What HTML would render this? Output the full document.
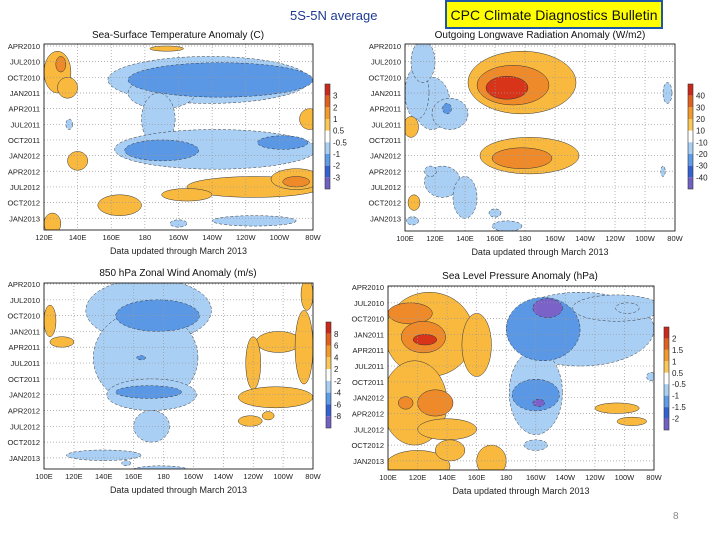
<!DOCTYPE html>
<html><head><meta charset="utf-8"><style>
body{margin:0;background:#fff}
svg{display:block;font-family:"Liberation Sans",sans-serif}
</style></head><body>
<svg id="s" width="720" height="540" viewBox="0 0 720 540">
<text x="290" y="20" font-size="13" fill="#1f3a93">5S-5N average</text>
<rect x="446" y="1" width="216" height="27" fill="#ffff00" stroke="#2056a8" stroke-width="2"/>
<text x="554" y="20" font-size="14" text-anchor="middle" fill="#111">CPC Climate Diagnostics Bulletin</text>
<text x="673" y="519" font-size="10" fill="#888">8</text>
</svg>
<script>
// ---- data: blobs [lon, monthSinceApr2010, rxDeg, ryMonths, level]
const sstBlobs=[[128,5,8,4,1],[130,3.5,3,1.5,2],[134,8,6,2,1],[218,6.5,60,4.5,-1],[190,9,20,3,-1],[225,6.5,55,3.3,-2],[188,14,10,5,-1],[222,19.8,60,3.8,-1],[190,20,22,2,-2],[262,18.5,15,1.3,-2],[140,22,6,1.8,1],[245,27,40,2,1],[270,25.5,15,2,1],[270,26,8,1,2],[205,28.5,15,1.2,1],[165,30.5,13,2,1],[125,34,5,2,1],[278,14,6,2,1],[245,33.5,25,1,-1],[200,34,5,0.7,-1],[193,0.5,10,0.5,1],[135,15,2,1,-1]];
const olrBlobs=[[178,7,36,6,1],[172,7.5,24,3.8,2],[168,8,14,2.2,3],[183,21,33,3.5,1],[178,21.5,20,2,2],[118,11,12,5,-1],[130,13,12,3,-1],[108,9,8,5,-1],[112,3,8,4,-1],[128,12,3,1,-2],[125,26,12,3,-1],[140,29,8,4,-1],[117,24,4,1,-1],[160,32,4,0.8,-1],[168,34.5,10,1,-1],[105,33.5,4,0.8,-1],[275,9,3,2,-1],[272,24,1.5,1,-1],[104,15.5,5,2,1],[106,30,4,1.5,1]];
const uBlobs=[[170,5,42,6,-1],[168,14,35,9,-1],[172,21,30,3,-1],[172,27,12,3,-1],[140,32.5,25,1,-1],[178,35.5,20,1,-1],[155,34,3,0.5,-1],[176,6,28,3,-2],[170,20.5,22,1.2,-2],[165,14,3,0.4,-2],[257,11,15,2,1],[274,12,6,7,1],[240,15,5,5,1],[255,21.5,25,2,1],[238,26,8,1,1],[250,25,4,0.8,1],[104,7,4,3,1],[112,11,8,1,1],[276,2,4,3,1]];
const slpBlobs=[[128,9,30,8,1],[118,22,22,8,1],[140,27,20,2,1],[160,11,10,6,1],[115,5,15,2,2],[124,9.5,15,3,2],[125,10,8,1,3],[132,22,12,2.5,2],[112,22,5,1.2,2],[120,34,22,3,1],[170,33,10,3,1],[255,23,15,1,1],[265,25.5,10,0.8,1],[142,31,10,2,1],[230,8,50,7,-1],[200,20,18,8,-1],[255,4,30,2.5,-1],[205,8,25,6,-2],[200,20.5,16,3,-2],[208,4,10,1.8,-3],[202,22,4,0.7,-3],[200,30,8,1,-1],[262,4,8,1,-1],[278,17,3,0.8,-1]];
const timeLabelsA=["APR2010","JUL2010","OCT2010","JAN2011","APR2011","JUL2011","OCT2011","JAN2012","APR2012","JUL2012","OCT2012","JAN2013"];
const lonLabelsSST=["120E","140E","160E","180","160W","140W","120W","100W","80W"];
const lonLabelsWide=["100E","120E","140E","160E","180","160W","140W","120W","100W","80W"];
const sstBar=["3","2","1","0.5","-0.5","-1","-2","-3"];
const olrBar=["40","30","20","10","-10","-20","-30","-40"];
const uBar=["8","6","4","2","-2","-4","-6","-8"];
const slpBar=["2","1.5","1","0.5","-0.5","-1","-1.5","-2"];

const NS="http://www.w3.org/2000/svg";
const svg=document.getElementById('s');
const col={"-3":"#7a62c8","-2":"#5a98e6","-1":"#a9cff5","1":"#f9b93e","2":"#ef8a2a","3":"#d7341a"};
const barCols=["#c9281a","#e0601f","#f39a2c","#fbc65a","#ffffff","#a9cff5","#5e9be8","#3461d2","#7060c4"];
function mk(t,a,p){const e=document.createElementNS(NS,t);for(const k in a)e.setAttribute(k,a[k]);(p||svg).appendChild(e);return e;}
let cid=0;
function panel(c){
  const g=mk('g',{});
  
  
  const xs=l=>c.x0+(l-c.lon0)/(c.lon1-c.lon0)*(c.x1-c.x0);
  const ys=m=>c.yApr+m*c.ppm;
  const id='clip'+(cid++);
  const cp=mk('clipPath',{id},g);mk('rect',{x:c.x0,y:c.y0,width:c.x1-c.x0,height:c.y1-c.y0},cp);
  const bg=mk('g',{'clip-path':`url(#${id})`},g);
  mk('rect',{x:c.x0,y:c.y0,width:c.x1-c.x0,height:c.y1-c.y0,fill:'#fff'},bg);
  const sorted=c.blobs.slice().sort((a,b)=>Math.abs(a[4])-Math.abs(b[4]));
  sorted.forEach(b=>{
    const e=mk('ellipse',{cx:xs(b[0]),cy:ys(b[1]),rx:b[2]/(c.lon1-c.lon0)*(c.x1-c.x0),ry:b[3]*c.ppm,fill:col[b[4]],stroke:'#333','stroke-width':0.5,'stroke-dasharray':b[4]<0?'3,2':'none'},bg);
    
    
  });
  c.lons.forEach((l,i)=>{if(i>0&&i<c.lons.length-1)mk('line',{x1:xs(l),x2:xs(l),y1:c.y0,y2:c.y1,stroke:'#999','stroke-dasharray':'1,2','stroke-width':0.7},bg);});
  timeLabelsA.forEach((t,i)=>{mk('line',{x1:c.x0,x2:c.x1,y1:ys(i*3),y2:ys(i*3),stroke:'#999','stroke-dasharray':'1,2','stroke-width':0.7},bg);});
  mk('rect',{x:c.x0,y:c.y0,width:c.x1-c.x0,height:c.y1-c.y0,fill:'none',stroke:'#000','stroke-width':0.8},g);
  const tt=mk('text',{x:c.tx,y:c.ty,'font-size':10,'text-anchor':'middle',fill:'#111'},g);tt.textContent=c.title;
  
  timeLabelsA.forEach((t,i)=>{const e=mk('text',{x:c.x0-4,y:ys(i*3)+3,'font-size':7.5,'text-anchor':'end',fill:'#222'},g);e.textContent=t;
    });
  c.lonLabels.forEach((t,i)=>{const e=mk('text',{x:xs(c.lons[i]),y:c.y1+10,'font-size':7.5,'text-anchor':'middle',fill:'#222'},g);e.textContent=t;
    });
  const f=mk('text',{x:(c.x0+c.x1)/2,y:c.y1+24,'font-size':9,'text-anchor':'middle',fill:'#222'},g);f.textContent='Data updated through March 2013';
  
  const cb=mk('g',{},g);
  const h=(c.cb1-c.cb0)/9;
  barCols.forEach((cl,i)=>mk('rect',{x:c.cbx,y:c.cb0+i*h,width:5,height:h,fill:cl},cb));
  mk('rect',{x:c.cbx,y:c.cb0,width:5,height:c.cb1-c.cb0,fill:'none',stroke:'#333','stroke-width':0.6},cb);
  c.bar.forEach((t,i)=>{const e=mk('text',{x:c.cbx+8,y:c.cb0+(i+1)*h+3,'font-size':8,fill:'#222'},cb);e.textContent=t;});
}
const lonSST=[120,140,160,180,200,220,240,260,280];
const lonW=[100,120,140,160,180,200,220,240,260,280];
panel({name:'sst-anomaly-panel',title:'Sea-Surface Temperature Anomaly (C)',tx:178,ty:38,x0:44,x1:313,y0:44,y1:230,lon0:120,lon1:280,yApr:46,ppm:5.22,blobs:sstBlobs,lons:lonSST,lonLabels:lonLabelsSST,cbx:325,cb0:84,cb1:189,bar:sstBar});
panel({name:'olr-anomaly-panel',title:'Outgoing Longwave Radiation Anomaly (W/m2)',tx:540,ty:38,x0:405,x1:675,y0:44,y1:231,lon0:100,lon1:280,yApr:46,ppm:5.22,blobs:olrBlobs,lons:lonW,lonLabels:lonLabelsWide,cbx:688,cb0:84,cb1:189,bar:olrBar});
panel({name:'u850-anomaly-panel',title:'850 hPa Zonal Wind Anomaly (m/s)',tx:178,ty:276,x0:44,x1:313,y0:283,y1:469,lon0:100,lon1:280,yApr:284,ppm:5.27,blobs:uBlobs,lons:lonW,lonLabels:lonLabelsWide,cbx:326,cb0:322,cb1:428,bar:uBar});
panel({name:'slp-anomaly-panel',title:'Sea Level Pressure Anomaly (hPa)',tx:520,ty:279,x0:388,x1:654,y0:286,y1:470,lon0:100,lon1:280,yApr:287,ppm:5.27,blobs:slpBlobs,lons:lonW,lonLabels:lonLabelsWide,cbx:664,cb0:327,cb1:430,bar:slpBar});
</script>
</body></html>
